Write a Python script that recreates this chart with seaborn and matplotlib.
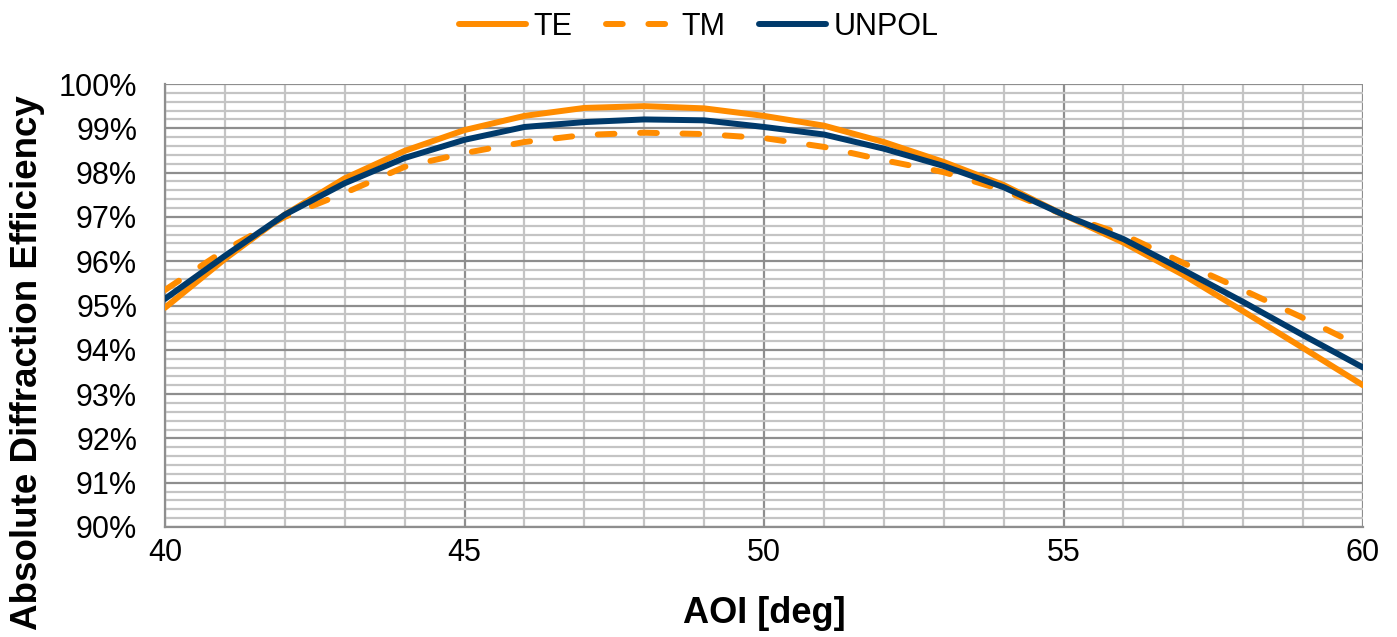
import pandas as pd
import numpy as np
import matplotlib
matplotlib.use('Agg')
import matplotlib.pyplot as plt
from matplotlib.ticker import MultipleLocator, PercentFormatter
import seaborn as sns

# AOI values and efficiency (%)
aoi = [40, 41, 42, 43, 44, 45, 46, 47, 48, 49, 50, 51, 52, 53, 54, 55, 56, 57, 58, 59, 60]
te = [94.95, 96.05, 97.05, 97.87, 98.49, 98.96, 99.28, 99.46, 99.5, 99.45, 99.28, 99.06,
      98.69, 98.24, 97.72, 97.05, 96.42, 95.69, 94.87, 94.04, 93.2]
tm = [95.35, 96.25, 97.0, 97.54, 98.13, 98.44, 98.69, 98.85, 98.9, 98.87, 98.78, 98.58,
      98.28, 98.01, 97.6, 97.05, 96.6, 95.96, 95.35, 94.72, 94.05]
unpol = [95.15, 96.12, 97.05, 97.76, 98.33, 98.74, 99.03, 99.14, 99.2, 99.18, 99.03, 98.86,
         98.54, 98.15, 97.67, 97.05, 96.5, 95.8, 95.08, 94.33, 93.6]

df = pd.DataFrame({
    'AOI': aoi * 3,
    'eff': te + tm + unpol,
    'pol': ['TE'] * len(aoi) + ['TM'] * len(aoi) + ['UNPOL'] * len(aoi),
})

sns.set_style('white')
plt.rcParams['font.family'] = ['Liberation Sans', 'DejaVu Sans']

fig = plt.figure(figsize=(13.97, 6.37), dpi=100)
ax = fig.add_axes([165 / 1397, 1 - 527 / 637, (1363 - 165) / 1397, (527 - 84) / 637])

orange = '#FF8C00'
navy = '#003A6B'
sns.lineplot(data=df, x='AOI', y='eff', hue='pol', style='pol',
             palette={'TE': orange, 'TM': orange, 'UNPOL': navy},
             dashes={'TE': '', 'TM': (2.8, 4.3), 'UNPOL': ''},
             linewidth=4.3, ax=ax, zorder=3)
for ln in ax.get_lines():
    ln.set_solid_capstyle('round')
    ln.set_dash_capstyle('round')

ax.set_xlim(40, 60)
ax.set_ylim(90, 100)
ax.xaxis.set_major_locator(MultipleLocator(5))
ax.xaxis.set_minor_locator(MultipleLocator(1))
ax.yaxis.set_major_locator(MultipleLocator(1))
ax.yaxis.set_minor_locator(MultipleLocator(0.2))
ax.yaxis.set_major_formatter(PercentFormatter(decimals=0))
ax.grid(which='minor', color='#c4c4c4', linewidth=1.6, zorder=0)
ax.grid(which='major', color='#8e8e8e', linewidth=1.6, zorder=0)
ax.set_axisbelow(True)
ax.tick_params(which='both', length=0, labelsize=22, labelcolor='black')
ax.tick_params(axis='y', pad=20)
ax.tick_params(axis='x', pad=8)
for side in ['top', 'right']:
    ax.spines[side].set_visible(False)
for side in ['left', 'bottom']:
    ax.spines[side].set_color('#8e8e8e')
    ax.spines[side].set_linewidth(1.6)

ax.set_xlabel('AOI [deg]', fontsize=26, fontweight='bold', labelpad=20, color='black')
ax.set_ylabel('Absolute Diffraction Efficiency', fontsize=26.5, fontweight='bold',
              color='black')
ax.yaxis.set_label_coords(-0.100, 0.372)

# legend centred on the whole figure, above the plot
handles, labels = ax.get_legend_handles_labels()
ax.get_legend().remove()
fig.legend(handles, labels, loc='center', bbox_to_anchor=(0.5, 1 - 27 / 637), ncol=3,
           frameon=False, fontsize=22, handlelength=2.2, handletextpad=0.25,
           columnspacing=1.1, labelcolor='black')
for ln in fig.legends[0].get_lines():
    ln.set_linewidth(4.3)

fig.savefig('out.png', dpi=100)
